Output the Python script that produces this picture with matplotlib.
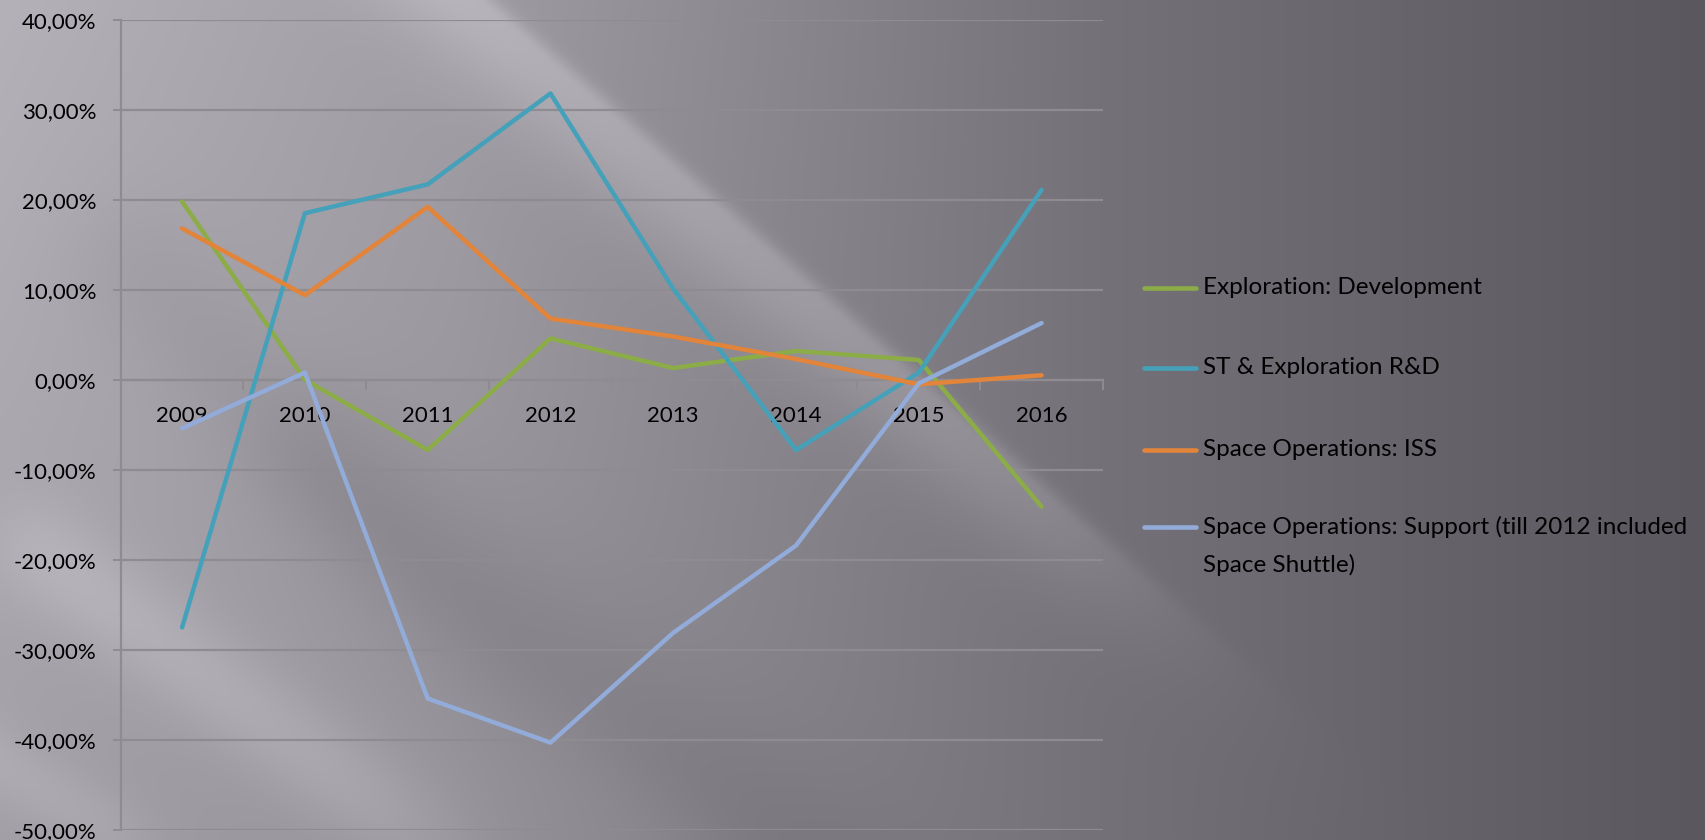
import numpy as np
import matplotlib
matplotlib.use('Agg')
import matplotlib.pyplot as plt
from matplotlib.lines import Line2D
from matplotlib.ticker import FixedLocator, FuncFormatter

# ---------------- data ----------------
years = ['2009', '2010', '2011', '2012', '2013', '2014', '2015', '2016']
exploration_dev = [19.8, 0.0, -7.8, 4.6, 1.3, 3.2, 2.2, -14.1]
st_exploration_rd = [-27.5, 18.5, 21.7, 31.8, 10.1, -7.8, 0.8, 21.1]
space_ops_iss = [16.8, 9.4, 19.2, 6.8, 4.8, 2.3, -0.5, 0.5]
space_ops_support = [-5.4, 0.8, -35.4, -40.3, -28.1, -18.4, -0.4, 6.3]
series_labels = ['Exploration: Development', 'ST & Exploration R&D',
                 'Space Operations: ISS',
                 'Space Operations: Support (till 2012 included\nSpace Shuttle)']
series_colors = ['#8cac48', '#45a1b9', '#e2843a', '#92abd8']
y_ticks = [40, 30, 20, 10, 0, -10, -20, -30, -40, -50]

FONT = ['Lato', 'DejaVu Sans']
plt.rcParams['font.family'] = FONT

W_PX, H_PX = 1705, 840
fig = plt.figure(figsize=(W_PX / 100, H_PX / 100), dpi=100)

# ---------------- background ----------------
H, W = 420, 853
yy, xx = np.mgrid[0:H, 0:W]
X = xx / (W - 1) * W_PX
Y = yy / (H - 1) * H_PX
v = np.interp(X, [0, 450, 1100, 1705], [180, 160, 116, 90])
v = v - 18 * (Y / H_PX) * np.clip(1 - X / 1100, 0, 1)


def band(p0, p1, amp, sig_l, sig_r=None, t0=-0.05, t1=1.0):
    if sig_r is None:
        sig_r = sig_l
    p0 = np.array(p0, float)
    p1 = np.array(p1, float)
    d = p1 - p0
    L = np.hypot(*d)
    d /= L
    rx, ry = X - p0[0], Y - p0[1]
    dist = rx * d[1] - ry * d[0]
    t = (rx * d[0] + ry * d[1]) / L
    fade = 1 / (1 + np.exp(-(t - t0) * 25)) * 1 / (1 + np.exp((t - t1) * 12))
    sig = np.where(dist < 0, sig_l, sig_r)
    return amp * np.exp(-0.5 * (dist / sig) ** 2) * fade


# bright stripe with sharp right edge
v += band((455, -20), (1160, 600), 24, 48, 9, t0=-0.2, t1=0.95)
# bright stripes bottom-left
v += band((30, 545), (430, 845), 16, 36)
v += band((-60, 730), (140, 850), 10, 25)
# darker stripes
v += band((330, 470), (800, 860), -9, 45, 60, t0=-0.1, t1=1.2)
v += band((120, 250), (520, 700), -7, 50)
img = np.stack([v, v - 3, v + 5], axis=-1) / 255.0
img = np.clip(img, 0, 1)
bg = fig.add_axes([0, 0, 1, 1])
bg.imshow(img, extent=[0, 1, 0, 1], aspect='auto', interpolation='bilinear', zorder=0)
bg.set_axis_off()

# ---------------- main axes ----------------
left, right = 120.7 / W_PX, 1103 / W_PX
top, bottom = 1 - 19.6 / H_PX, 1 - 830 / H_PX
ax = fig.add_axes([left, bottom, right - left, top - bottom])
ax.patch.set_alpha(0)

x = np.arange(len(years))
for vals, col in zip([exploration_dev, st_exploration_rd, space_ops_iss, space_ops_support],
                     series_colors):
    ax.plot(x, vals, color=col, lw=3.2, solid_joinstyle='round',
            solid_capstyle='round', zorder=3)

ax.set_xlim(-0.5, len(years) - 0.5)
ax.set_ylim(-50, 40)

grid_col = '#8e8c90'
ax.yaxis.set_major_locator(FixedLocator(y_ticks))
ax.yaxis.set_major_formatter(FuncFormatter(lambda v, p: f"{v:.2f}".replace('.', ',') + '%'))
ax.yaxis.grid(True, color=grid_col, lw=1.6)
ax.set_axisbelow(True)

for s in ['top', 'right']:
    ax.spines[s].set_visible(False)
ax.spines['left'].set_color(grid_col)
ax.spines['left'].set_linewidth(1.6)
ax.spines['bottom'].set_position(('data', 0))
ax.spines['bottom'].set_color(grid_col)
ax.spines['bottom'].set_linewidth(1.6)

ax.set_xticks(x)
ax.set_xticklabels(years)
ax.set_xticks(np.arange(-0.5, len(years)), minor=True)
ax.tick_params(axis='x', which='major', length=0, pad=19, labelsize=16, labelcolor='black')
ax.tick_params(axis='x', which='minor', length=7, width=1.4, color=grid_col, direction='out')
ax.tick_params(axis='y', length=5.5, width=1.4, color=grid_col, direction='out',
               pad=12, labelsize=16, labelcolor='black')

# ---------------- legend (manual, Excel style) ----------------
hx0, hx1 = 1144 / W_PX, 1196 / W_PX
tx = 1203 / W_PX
ycent = [288, 367.5, 450, 527.4]
for lab, col, yc in zip(series_labels, series_colors, ycent):
    yf = 1 - yc / H_PX
    fig.add_artist(Line2D([hx0, hx1], [yf, yf], transform=fig.transFigure,
                          color=col, lw=3.3, solid_capstyle='round'))
    lines = lab.split('\n')
    for i, ln in enumerate(lines):
        fig.text(tx, 1 - (yc + i * 38) / H_PX, ln, fontsize=17.5, color='black',
                 ha='left', va='center')

fig.savefig('out.png', dpi=100)
